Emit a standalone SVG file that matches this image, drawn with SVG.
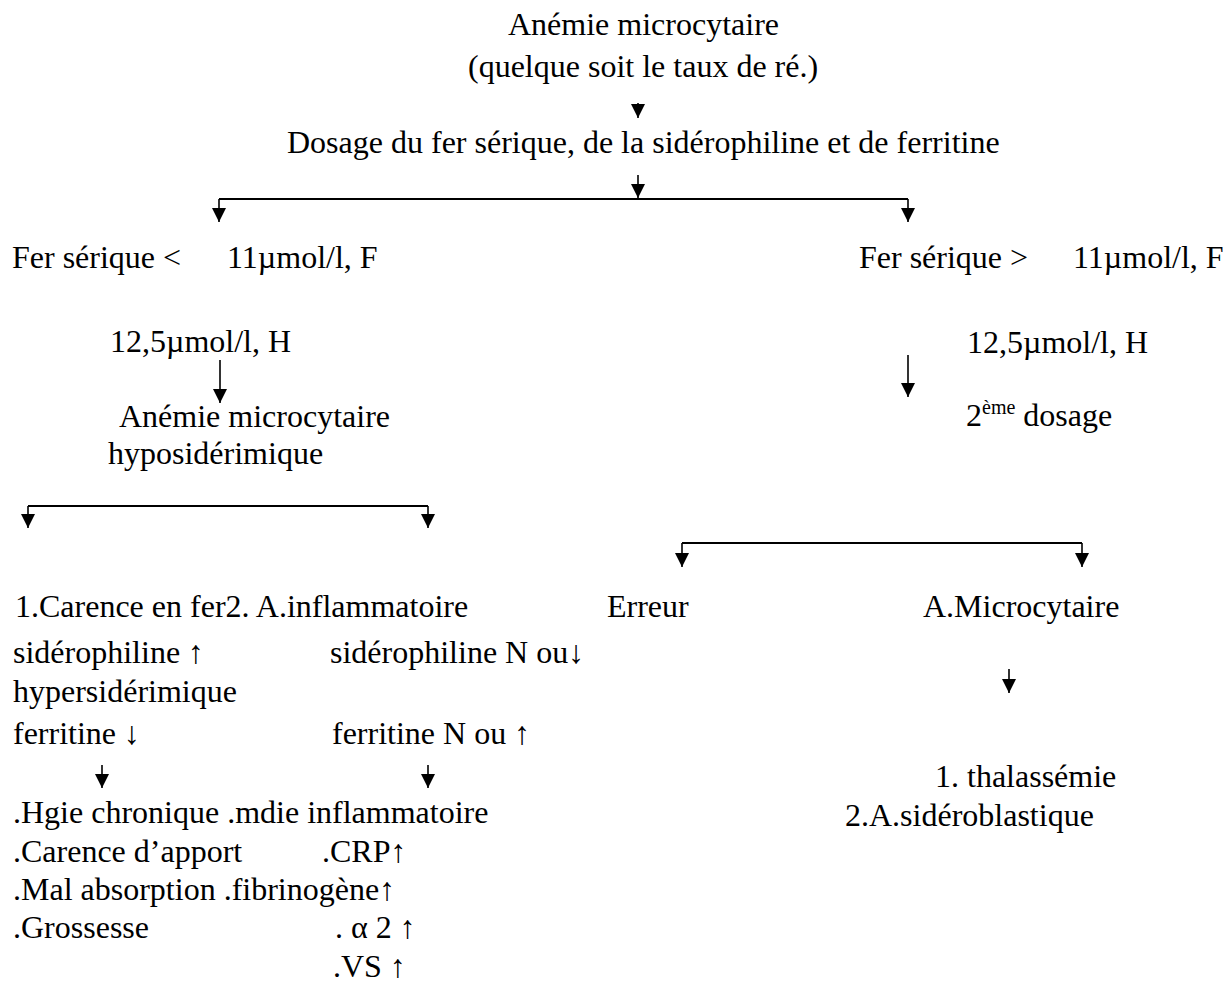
<svg xmlns="http://www.w3.org/2000/svg" width="1223" height="1003" viewBox="0 0 1223 1003">
  <style>
    text { font-family: "Liberation Serif", "Times New Roman", serif; font-size: 32px; fill: #000; }
    .sup { font-size: 20px; }
    .wire { fill: none; stroke: #000; stroke-width: 2; }
    .arrow { fill: none; stroke: #000; stroke-width: 1.6; marker-end: url(#head); }
  </style>
  <defs>
    <marker id="head" viewBox="0 0 14 14" refX="14" refY="7" markerWidth="14" markerHeight="14" markerUnits="userSpaceOnUse" orient="auto">
      <path d="M0,0 L14,7 L0,14 Z" fill="#000"/>
    </marker>
  </defs>
  <rect width="1223" height="1003" fill="#fff"/>

  <!-- connectors -->
  <g id="connectors">
    <path class="arrow" d="M638,103 V118"/>
    <path class="arrow" d="M638,175 V198"/>
    <path class="wire" d="M219,199 H908"/>
    <path class="arrow" d="M219,199 V222"/>
    <path class="arrow" d="M908,199 V222"/>
    <path class="arrow" d="M220,360 V403"/>
    <path class="arrow" d="M908,355 V397"/>
    <path class="wire" d="M28,506 H428"/>
    <path class="arrow" d="M28,506 V528"/>
    <path class="arrow" d="M428,506 V528"/>
    <path class="wire" d="M682,543 H1082"/>
    <path class="arrow" d="M682,543 V567"/>
    <path class="arrow" d="M1082,543 V567"/>
    <path class="arrow" d="M1009,669 V693"/>
    <path class="arrow" d="M102,765 V788"/>
    <path class="arrow" d="M428,765 V788"/>
  </g>

  <g id="node-start">
    <text x="508" y="35">Anémie microcytaire</text>
    <text x="468" y="77">(quelque soit le taux de ré.)</text>
  </g>
  <g id="node-dosage">
    <text x="287" y="153">Dosage du fer sérique, de la sidérophiline et de ferritine</text>
  </g>
  <g id="node-fer-bas">
    <text x="12" y="268">Fer sérique &lt;</text>
    <text x="227" y="268">11µmol/l, F</text>
    <text x="110" y="352">12,5µmol/l, H</text>
  </g>
  <g id="node-fer-haut">
    <text x="859" y="268">Fer sérique &gt;</text>
    <text x="1073" y="268">11µmol/l, F</text>
    <text x="967" y="353">12,5µmol/l, H</text>
  </g>
  <g id="node-hyposiderimique">
    <text x="119" y="427">Anémie microcytaire</text>
    <text x="108" y="464">hyposidérimique</text>
  </g>
  <g id="node-second-dosage">
    <text x="966" y="426">2<tspan class="sup" dy="-12">ème</tspan><tspan dy="12"> dosage</tspan></text>
  </g>
  <g id="node-carence">
    <text x="15" y="617">1.Carence en fer2. A.inflammatoire</text>
    <text x="13" y="663">sidérophiline ↑</text>
    <text x="13" y="702">hypersidérimique</text>
    <text x="13" y="744">ferritine ↓</text>
  </g>
  <g id="node-inflammatoire">
    <text x="330" y="663">sidérophiline N ou↓</text>
    <text x="332" y="744">ferritine N ou ↑</text>
  </g>
  <g id="node-erreur">
    <text x="607" y="617">Erreur</text>
  </g>
  <g id="node-a-microcytaire">
    <text x="923" y="617">A.Microcytaire</text>
  </g>
  <g id="node-causes-carence">
    <text x="13" y="823">.Hgie chronique .mdie inflammatoire</text>
    <text x="13" y="862">.Carence d’apport</text>
    <text x="13" y="900">.Mal absorption .fibrinogène↑</text>
    <text x="13" y="938">.Grossesse</text>
  </g>
  <g id="node-signes-inflammation">
    <text x="322" y="862">.CRP↑</text>
    <text x="335" y="938">. α 2 ↑</text>
    <text x="333" y="977">.VS ↑</text>
  </g>
  <g id="node-etiologies">
    <text x="935" y="787">1. thalassémie</text>
    <text x="845" y="826">2.A.sidéroblastique</text>
  </g>
</svg>
